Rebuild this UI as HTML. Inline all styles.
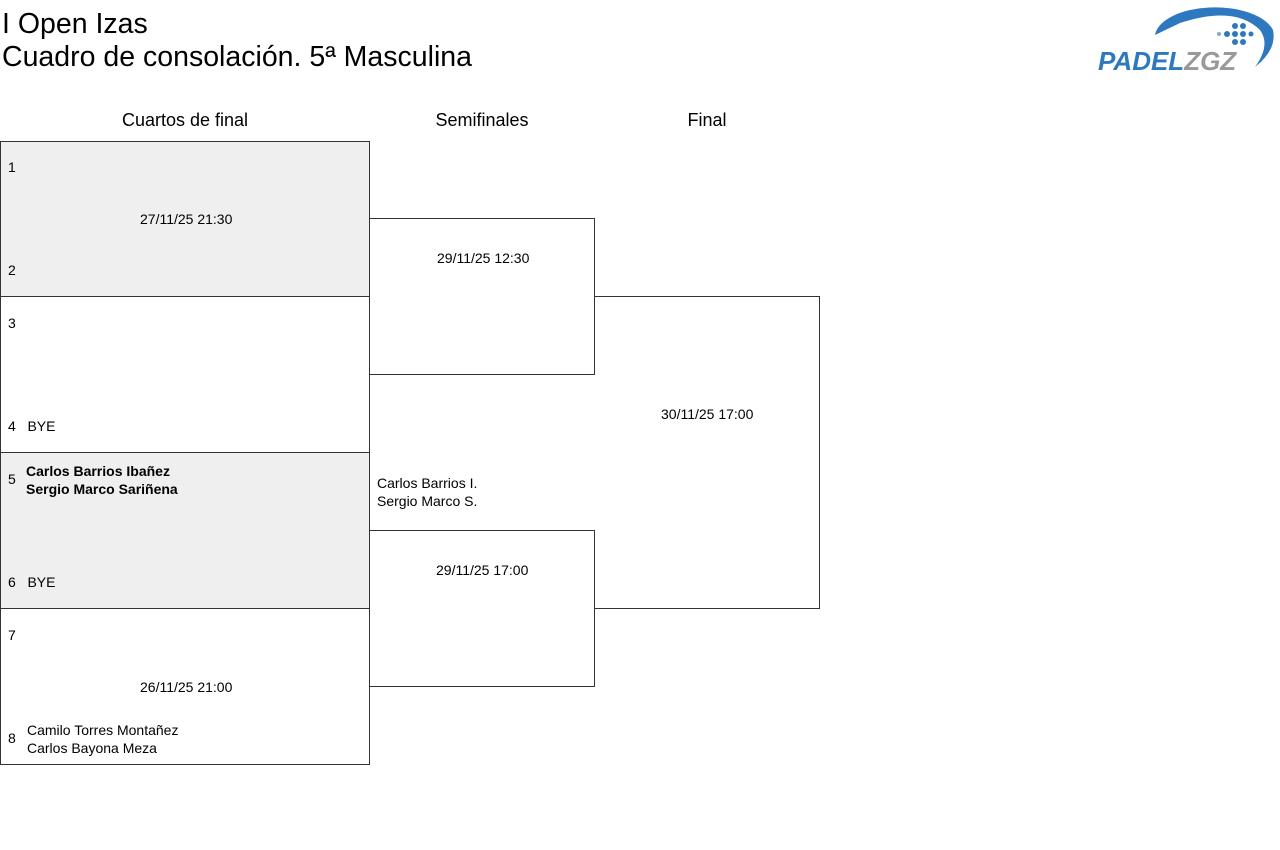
<!DOCTYPE html>
<html><head><meta charset="utf-8"><style>
body{margin:0;width:1280px;height:850px;background:#fff;font-family:"Liberation Sans",sans-serif;color:#000;position:relative;overflow:hidden}
.a{position:absolute}
.b{position:absolute;border:1px solid #333;box-sizing:border-box}
.t{position:absolute;font-size:14px;white-space:nowrap}
.h{position:absolute;font-size:18px;text-align:center}
</style></head><body>
<div class="a" style="left:2px;top:8px;font-size:28.5px;line-height:33px">I Open Izas<br>Cuadro de consolación. 5ª Masculina</div>
<svg class="a" style="left:1095px;top:5px" width="185" height="70">
<path d="M60 30 A60 30 0 0 1 178 25 Q182 45 160 62 Q176 40 165 25 Q140 0 85 18 Z" fill="#2e78c0"/>
<g fill="#2e78c0"><circle cx="140" cy="21" r="3"/><circle cx="148" cy="21" r="3"/><circle cx="132" cy="29" r="3"/><circle cx="140" cy="29" r="3"/><circle cx="148" cy="29" r="3"/><circle cx="156" cy="29" r="2.5"/><circle cx="140" cy="37" r="3"/><circle cx="148" cy="37" r="3"/><circle cx="124" cy="29" r="2" fill="#8ab"/></g>
<text x="3" y="65" font-family="Liberation Sans" font-weight="bold" font-style="italic" font-size="26" fill="#2e78c0">PADEL<tspan fill="#999">ZGZ</tspan></text>
</svg>
<div class="h" style="left:0;width:370px;top:110px">Cuartos de final</div>
<div class="h" style="left:369px;width:226px;top:110px">Semifinales</div>
<div class="h" style="left:594px;width:226px;top:110px">Final</div>

<div class="b" style="left:0;top:141px;width:370px;height:156px;background:#efefef"></div>
<div class="b" style="left:0;top:296px;width:370px;height:157px"></div>
<div class="b" style="left:0;top:452px;width:370px;height:157px;background:#efefef"></div>
<div class="b" style="left:0;top:608px;width:370px;height:157px"></div>
<div class="b" style="left:594px;top:296px;width:226px;height:313px;border-left:none"></div>
<div class="b" style="left:369px;top:218px;width:226px;height:157px"></div>
<div class="b" style="left:369px;top:530px;width:226px;height:157px"></div>

<div class="t" style="left:8px;top:159px">1</div>
<div class="t" style="left:8px;top:262px">2</div>
<div class="t" style="left:140px;top:211px">27/11/25 21:30</div>
<div class="t" style="left:8px;top:315px">3</div>
<div class="t" style="left:8px;top:418px">4&nbsp;&nbsp;&nbsp;BYE</div>
<div class="t" style="left:8px;top:471px">5</div>
<div class="t" style="left:26px;top:462px;line-height:18px;font-weight:bold">Carlos Barrios Ibañez<br>Sergio Marco Sariñena</div>
<div class="t" style="left:8px;top:574px">6&nbsp;&nbsp;&nbsp;BYE</div>
<div class="t" style="left:8px;top:627px">7</div>
<div class="t" style="left:140px;top:679px">26/11/25 21:00</div>
<div class="t" style="left:8px;top:730px">8</div>
<div class="t" style="left:27px;top:721px;line-height:18px">Camilo Torres Montañez<br>Carlos Bayona Meza</div>
<div class="t" style="left:437px;top:250px">29/11/25 12:30</div>
<div class="t" style="left:377px;top:474px;line-height:18px">Carlos Barrios I.<br>Sergio Marco S.</div>
<div class="t" style="left:436px;top:562px">29/11/25 17:00</div>
<div class="t" style="left:661px;top:406px">30/11/25 17:00</div>
</body></html>
